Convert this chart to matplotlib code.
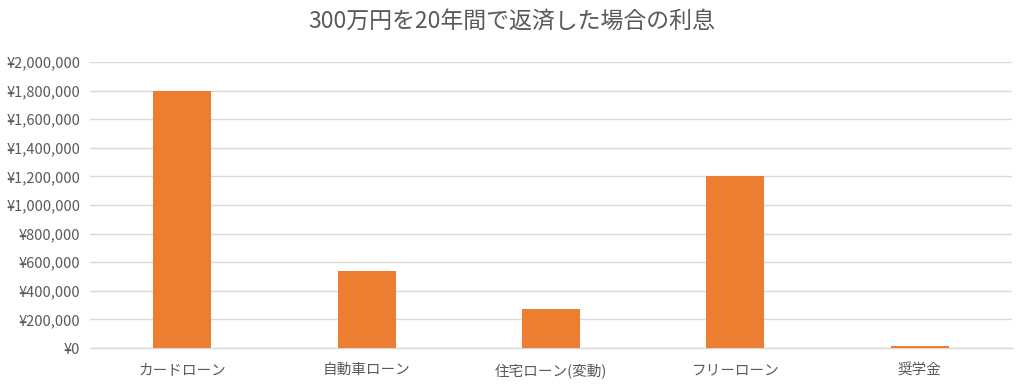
import matplotlib
matplotlib.use("Agg")
import matplotlib.pyplot as plt
from matplotlib.ticker import FuncFormatter, MultipleLocator

plt.rcParams['font.family'] = ['Noto Sans CJK JP', 'DejaVu Sans']

categories = ["カードローン", "自動車ローン", "住宅ローン(変動)", "フリーローン", "奨学金"]
values = [1800000, 540000, 272000, 1200000, 12000]
title = "300万円を20年間で返済した場合の利息"

fig = plt.figure(figsize=(10.24, 3.86), dpi=100)
ax = fig.add_axes([90/1024, 1-348/386, (1012-90)/1024, (348-62)/386])

x = range(len(categories))
ax.bar(x, values, width=0.315, color="#ED7D31", zorder=3)
ax.set_xlim(-0.5, len(categories)-0.5)
ax.set_ylim(0, 2000000)
ax.yaxis.set_major_locator(MultipleLocator(200000))
ax.yaxis.set_major_formatter(FuncFormatter(lambda v, p: "¥{:,.0f}".format(v)))
ax.grid(axis='y', color="#D9D9D9", linewidth=1.0, zorder=0)
ax.set_xticks(list(x))
ax.set_xticklabels(categories)
for s in ['top', 'right', 'left']:
    ax.spines[s].set_visible(False)
ax.spines['bottom'].set_color("#D9D9D9")
ax.spines['bottom'].set_linewidth(1.0)
ax.tick_params(axis='both', length=0, colors="#595959", labelsize=10.5)
ax.tick_params(axis='x', pad=11)
ax.tick_params(axis='y', pad=7)

fig.text(0.5, 1-21/386, title, ha='center', va='center', fontsize=16.5, color="#595959")

fig.savefig("out.png", dpi=100)
